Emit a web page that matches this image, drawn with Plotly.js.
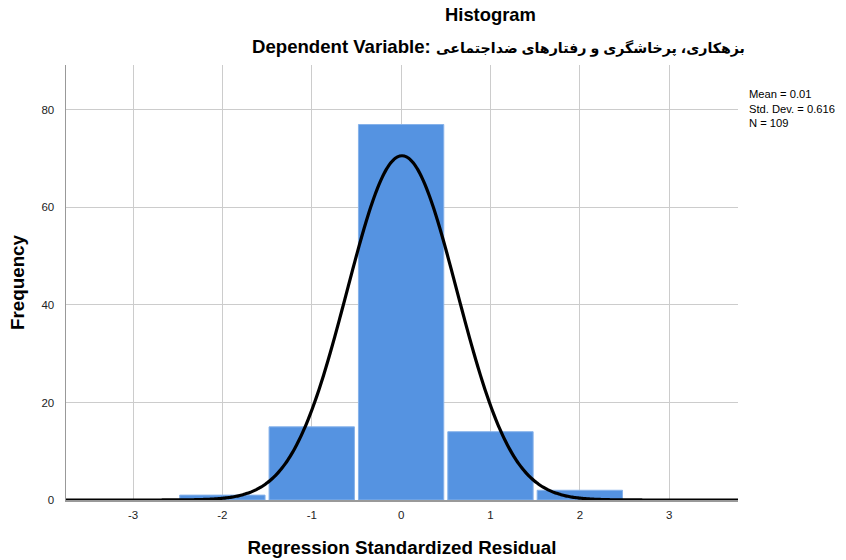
<!DOCTYPE html>
<html>
<head>
<meta charset="utf-8">
<script src="https://cdn.plot.ly/plotly-3.0.1.min.js"></script>
<style>html,body{margin:0;padding:0;background:#fff;}#chart{width:846px;height:560px;}</style>
</head>
<body>
<div id="chart"></div>
<script>
// Histogram bins (bin centres) and frequencies
const binCenters = [-2, -1, 0, 1, 2];
const frequencies = [1, 15, 77, 14, 2];

// Reported statistics of the residuals
const statMean = 0.01;
const statSD = 0.616;
const statN = 109;
const binWidth = 1;

// Axis ticks
const xTickVals = [-3, -2, -1, 0, 1, 2, 3];
const xTickText = ["-3", "-2", "-1", "0", "1", "2", "3"];
const yTickVals = [0, 20, 40, 60, 80];
const yTickText = ["0", "20", "40", "60", "80"];

const titleText = "Histogram";
const subtitleLatin = "Dependent Variable:";
const subtitlePersian = "بزهکاری، پرخاشگری و رفتارهای ضداجتماعی";
const statLines = ["Mean = 0.01", "Std. Dev. = 0.616", "N = 109"];

const xMin = -3.75, xMax = 3.77;

// Fitted normal curve (as drawn by SPSS) from the reported mean, SD and N
const curveX = [], curveY = [];
const steps = 300;
for (let i = 0; i <= steps; i++) {
  const x = xMin + (xMax - xMin) * i / steps;
  const z = (x - statMean) / statSD;
  curveX.push(x);
  curveY.push(statN * binWidth / (statSD * Math.sqrt(2 * Math.PI)) * Math.exp(-0.5 * z * z));
}

const font = "Arial, 'Liberation Sans', 'DejaVu Sans', sans-serif";

const traces = [
  {
    type: "bar",
    x: binCenters,
    y: frequencies,
    width: 0.955,
    marker: {color: "#5593e1", line: {color: "#86b2ea", width: 1}},
    hoverinfo: "skip"
  },
  {
    type: "scatter",
    mode: "lines",
    x: curveX,
    y: curveY,
    line: {color: "#000000", width: 3.2, shape: "spline"},
    hoverinfo: "skip"
  }
];

const px = v => (v - 66) / 672;
const py = v => 1 - (v - 65) / 435;

const annotations = [
  {text: "<b>" + titleText + "</b>", xref: "paper", yref: "paper", x: px(490), y: py(15),
   xanchor: "center", yanchor: "middle", showarrow: false, font: {family: font, size: 18.4, color: "#000"}},
  {text: "<b>" + subtitleLatin + " <span style=\"font-size:14.2px\">" + subtitlePersian + "</span></b>",
   xref: "paper", yref: "paper", x: px(250), y: py(47),
   xanchor: "left", yanchor: "middle", showarrow: false, font: {family: font, size: 18.6, color: "#000"}},
  {text: statLines.join("<br>"), xref: "paper", yref: "paper", x: px(747), y: py(108),
   xanchor: "left", yanchor: "middle", align: "left", showarrow: false,
   font: {family: font, size: 11.2, color: "#000"}}
];

const layout = {
  width: 846, height: 560,
  margin: {l: 66, r: 108, t: 65, b: 60, pad: 0},
  paper_bgcolor: "#ffffff",
  plot_bgcolor: "#ffffff",
  showlegend: false,
  bargap: 0,
  xaxis: {
    range: [xMin, xMax],
    tickmode: "array", tickvals: xTickVals, ticktext: xTickText,
    showgrid: true, gridcolor: "#cccccc", gridwidth: 1,
    zeroline: false,
    showline: true, linecolor: "#999999", linewidth: 1.5,
    ticks: "outside", ticklen: 4, tickcolor: "rgba(0,0,0,0)",
    tickfont: {family: font, size: 11.5, color: "#222"},
    title: {text: "<b>Regression Standardized Residual</b>", font: {family: font, size: 18.8, color: "#000"}, standoff: 20}
  },
  yaxis: {
    range: [0, 89.2],
    tickmode: "array", tickvals: yTickVals, ticktext: yTickText,
    showgrid: true, gridcolor: "#cccccc", gridwidth: 1,
    zeroline: false,
    showline: true, linecolor: "#999999", linewidth: 1.5,
    ticks: "outside", ticklen: 8, tickcolor: "rgba(0,0,0,0)",
    tickfont: {family: font, size: 11.5, color: "#222"},
    title: {text: "<b>Frequency</b>", font: {family: font, size: 18.8, color: "#000"}, standoff: 12}
  },
  annotations: annotations
};

Plotly.newPlot("chart", traces, layout, {displayModeBar: false, staticPlot: true});
</script>
</body>
</html>
